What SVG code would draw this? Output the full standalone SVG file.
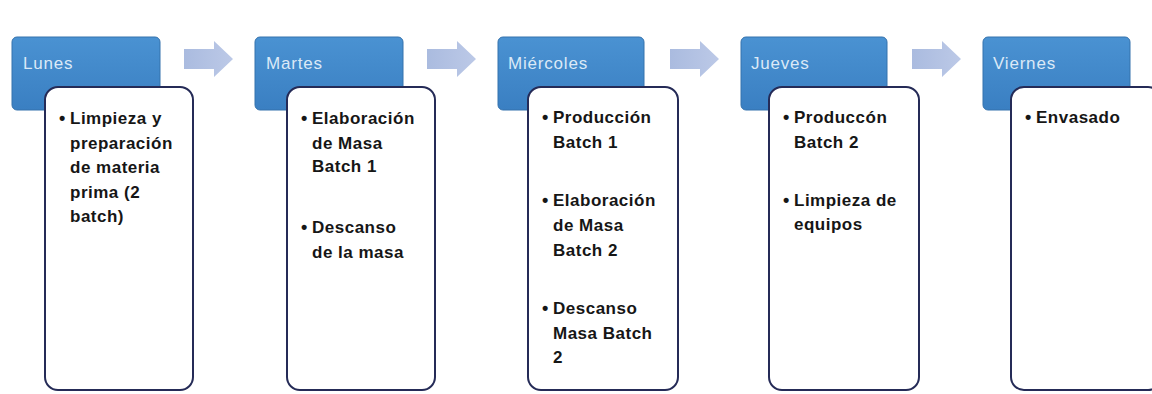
<svg xmlns="http://www.w3.org/2000/svg" width="1152" height="394" viewBox="0 0 1152 394">
  <defs>
    <linearGradient id="hdrFill" x1="0" y1="0" x2="0" y2="1">
      <stop offset="0" stop-color="#4a92d2"/>
      <stop offset="1" stop-color="#3a7fc2"/>
    </linearGradient>
    <linearGradient id="arrowFill" x1="0" y1="0" x2="1" y2="0">
      <stop offset="0" stop-color="#aabbdf"/>
      <stop offset="1" stop-color="#bcc9e7"/>
    </linearGradient>
    <path id="arrow" d="M0,8 H30 V0 L49,18 L30,36 V28 H0 Z"/>
  </defs>
  <style>
    .hdr { fill: url(#hdrFill); stroke: #3572ad; stroke-width: 1; }
    .hdr-label { font-family: "Liberation Sans", Arial, sans-serif; font-size: 17px; letter-spacing: 0.8px; fill: #dbe9f7; }
    .card { fill: #ffffff; stroke: #252b57; stroke-width: 2; }
    .item { font-family: "Liberation Sans", Arial, sans-serif; font-weight: bold; font-size: 17px; letter-spacing: 0.5px; fill: #161616; }
    .dot { font-family: "Liberation Sans", Arial, sans-serif; font-weight: bold; font-size: 18px; fill: #161616; }
    .conn { fill: url(#arrowFill); }
  </style>

  <rect width="1152" height="394" fill="#ffffff"/>

  <!-- process arrows between days -->
  <g id="connectors">
    <use href="#arrow" x="184" y="41" class="conn"/>
    <use href="#arrow" x="427" y="41" class="conn"/>
    <use href="#arrow" x="670" y="41" class="conn"/>
    <use href="#arrow" x="912" y="41" class="conn"/>
  </g>

  <!-- Monday -->
  <g id="lunes">
    <rect class="hdr" x="12" y="37" width="148" height="73" rx="5"/>
    <text class="hdr-label" x="23" y="69">Lunes</text>
    <rect class="card" x="45" y="87" width="148" height="303" rx="13"/>
    <text class="dot" x="59" y="124">•</text>
    <text class="item" x="70" y="124">Limpieza y</text>
    <text class="item" x="70" y="148.5">preparación</text>
    <text class="item" x="70" y="173">de materia</text>
    <text class="item" x="70" y="197.5">prima (2</text>
    <text class="item" x="70" y="222">batch)</text>
  </g>

  <!-- Tuesday -->
  <g id="martes">
    <rect class="hdr" x="255" y="37" width="148" height="73" rx="5"/>
    <text class="hdr-label" x="266" y="69">Martes</text>
    <rect class="card" x="287" y="87" width="148" height="303" rx="13"/>
    <text class="dot" x="301" y="124">•</text>
    <text class="item" x="312" y="124">Elaboración</text>
    <text class="item" x="312" y="148.5">de Masa</text>
    <text class="item" x="312" y="172">Batch 1</text>
    <text class="dot" x="301" y="233">•</text>
    <text class="item" x="312" y="233">Descanso</text>
    <text class="item" x="312" y="257.5">de la masa</text>
  </g>

  <!-- Wednesday -->
  <g id="miercoles">
    <rect class="hdr" x="498" y="37" width="146" height="73" rx="5"/>
    <text class="hdr-label" x="508" y="69">Miércoles</text>
    <rect class="card" x="528" y="87" width="150" height="303" rx="13"/>
    <text class="dot" x="542" y="123">•</text>
    <text class="item" x="553" y="123">Producción</text>
    <text class="item" x="553" y="147.5">Batch 1</text>
    <text class="dot" x="542" y="206">•</text>
    <text class="item" x="553" y="206">Elaboración</text>
    <text class="item" x="553" y="231">de Masa</text>
    <text class="item" x="553" y="256">Batch 2</text>
    <text class="dot" x="542" y="314">•</text>
    <text class="item" x="553" y="314">Descanso</text>
    <text class="item" x="553" y="338.5">Masa Batch</text>
    <text class="item" x="553" y="363">2</text>
  </g>

  <!-- Thursday -->
  <g id="jueves">
    <rect class="hdr" x="741" y="37" width="146" height="73" rx="5"/>
    <text class="hdr-label" x="751" y="69">Jueves</text>
    <rect class="card" x="769" y="87" width="150" height="303" rx="13"/>
    <text class="dot" x="783" y="123">•</text>
    <text class="item" x="794" y="123">Produccón</text>
    <text class="item" x="794" y="147.5">Batch 2</text>
    <text class="dot" x="783" y="206">•</text>
    <text class="item" x="794" y="206">Limpieza de</text>
    <text class="item" x="794" y="230">equipos</text>
  </g>

  <!-- Friday -->
  <g id="viernes">
    <rect class="hdr" x="983" y="37" width="147" height="73" rx="5"/>
    <text class="hdr-label" x="993" y="69">Viernes</text>
    <rect class="card" x="1011" y="87" width="150" height="303" rx="13"/>
    <text class="dot" x="1025" y="123">•</text>
    <text class="item" x="1036" y="123">Envasado</text>
  </g>
</svg>
